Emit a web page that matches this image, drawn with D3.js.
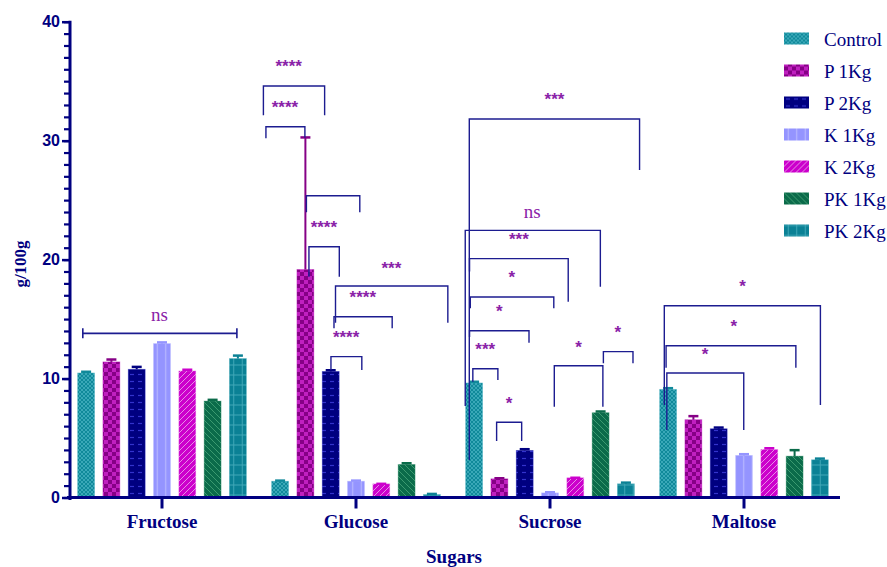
<!DOCTYPE html>
<html><head><meta charset="utf-8">
<script src="https://cdn.jsdelivr.net/npm/d3@7"></script>
<style>body{margin:0;background:#fff}svg{display:block}</style>
</head><body>
<svg id="c" width="887" height="567"></svg>
<script>
// ---- data ----
const categories = ["Fructose","Glucose","Sucrose","Maltose"];
const seriesNames = ["Control","P 1Kg","P 2Kg","K 1Kg","K 2Kg","PK 1Kg","PK 2Kg"];
const control = [10.47, 1.37, 9.63, 9.09];
const p1Kg    = [11.40, 19.17, 1.57, 6.54];
const p2Kg    = [10.78, 10.60, 3.96, 5.78];
const k1Kg    = [12.94, 1.37, 0.39, 3.54];
const k2Kg    = [10.64, 1.15, 1.66, 4.04];
const pk1Kg   = [8.11, 2.78, 7.13, 3.48];
const pk2Kg   = [11.68, 0.25, 1.15, 3.17];
const controlErr = [0.10, 0.05, 0.10, 0.10];
const p1KgErr    = [0.20, 11.10, 0.05, 0.30];
const p2KgErr    = [0.20, 0.10, 0.10, 0.10];
const k1KgErr    = [0.10, 0.05, 0.05, 0.10];
const k2KgErr    = [0.10, 0.00, 0.00, 0.10];
const pk1KgErr   = [0.10, 0.10, 0.10, 0.50];
const pk2KgErr   = [0.25, 0.05, 0.10, 0.10];
const yTicks = [0, 10, 20, 30, 40];
const axisTitles = ["Sugars", "g/100g"];
// brackets: [category, fromBar, toBar, top, leftEnd, rightEnd]
const brackets = [
  ["Glucose", -0.66, 1.76, 34.59, 32.13, 32.13],
  ["Glucose", -0.56, 0.98, 31.17, 30.20, 30.25],
  ["Glucose", 1.04, 3.15, 25.37, 23.98, 23.98],
  ["Glucose", 1.14, 2.34, 21.08, 18.56, 18.56],
  ["Glucose", 2.19, 6.63, 17.78, 14.70, 14.70],
  ["Glucose", 2.13, 4.43, 15.20, 14.22, 14.22],
  ["Glucose", 2.01, 3.23, 11.84, 10.72, 10.72],
  ["Sucrose", -0.19, 6.54, 31.82, 3.15, 27.53],
  ["Sucrose", -0.35, 4.99, 22.46, 7.69, 17.72],
  ["Sucrose", -0.18, 3.72, 20.08, 19.00, 16.46],
  ["Sucrose", -0.15, 3.15, 16.86, 15.91, 15.91],
  ["Sucrose", -0.18, 2.17, 14.02, 13.50, 13.01],
  ["Sucrose", -0.05, 0.94, 10.83, 9.74, 9.88],
  ["Sucrose", 0.89, 1.88, 6.32, 4.75, 4.75],
  ["Sucrose", 3.17, 5.09, 11.08, 7.63, 7.63],
  ["Sucrose", 5.11, 6.28, 12.26, 11.28, 11.28],
  ["Maltose", -0.15, 6.02, 16.12, 7.78, 7.78],
  ["Maltose", -0.08, 5.05, 12.76, 10.91, 10.91],
  ["Maltose", -0.05, 2.99, 10.47, 5.67, 5.67]
];
// capped line (ns across fructose): [category, fromBar, toBar, level]
const cappedLines = [["Fructose", -0.13, 5.96, 13.80]];
// significance labels: [category, barPosition, value, text]
const sigLabels = [
  ["Fructose", 2.90, 15.26, "ns"],
  ["Glucose", 0.34, 36.53, "****"],
  ["Glucose", 0.19, 33.14, "****"],
  ["Glucose", 1.73, 23.05, "****"],
  ["Glucose", 4.40, 19.63, "***"],
  ["Glucose", 3.27, 17.17, "****"],
  ["Glucose", 2.61, 13.80, "****"],
  ["Sucrose", 3.18, 33.78, "***"],
  ["Sucrose", 2.30, 23.89, "ns"],
  ["Sucrose", 1.77, 22.01, "***"],
  ["Sucrose", 1.49, 18.85, "*"],
  ["Sucrose", 1.00, 15.96, "*"],
  ["Sucrose", 0.44, 12.76, "***"],
  ["Sucrose", 1.38, 8.20, "*"],
  ["Sucrose", 4.13, 12.96, "*"],
  ["Sucrose", 5.68, 14.22, "*"],
  ["Maltose", 2.94, 18.06, "*"],
  ["Maltose", 2.60, 14.70, "*"],
  ["Maltose", 1.46, 12.40, "*"]
];

// ---- build ----
const seriesVals = [control, p1Kg, p2Kg, k1Kg, k2Kg, pk1Kg, pk2Kg];
const seriesErrs = [controlErr, p1KgErr, p2KgErr, k1KgErr, k2KgErr, pk1KgErr, pk2KgErr];
const baseCol = ["#10899a", "#860086", "#000080", "#9494ff", "#cc00cc", "#0b6b4a", "#0b8195"];
const lightCol = ["#45b0c0", "#c020c0", "#3333cc", "#b8b8ff", "#e68ce6", "#3c9a70", "#40a8b8"];
const axisCol = "#000080";
const brCol = "#1c1c90";
const sigCol = "#8a22a8";

const svg = d3.select("#c");
const defs = svg.append("defs");
function pat(id, w, h, bg, draw) {
  const p = defs.append("pattern").attr("id", id).attr("patternUnits", "userSpaceOnUse")
    .attr("width", w).attr("height", h);
  p.append("rect").attr("width", w).attr("height", h).attr("fill", bg);
  draw(p);
}
pat("p0", 4, 4, baseCol[0], p => {
  p.append("path").attr("d", "M0,0L4,4M4,0L0,4").attr("stroke", lightCol[0]).attr("stroke-width", 0.8);
});
pat("p1", 8, 8, baseCol[1], p => {
  p.append("rect").attr("width", 4).attr("height", 4).attr("fill", lightCol[1]);
  p.append("rect").attr("x", 4).attr("y", 4).attr("width", 4).attr("height", 4).attr("fill", lightCol[1]);
});
pat("p2", 8, 7, baseCol[2], p => {
  p.append("path").attr("d", "M2,3.5H6").attr("stroke", lightCol[2]).attr("stroke-width", 1.2);
});
pat("p3", 8.5, 8, baseCol[3], p => {
  p.append("path").attr("d", "M4.25,0V8").attr("stroke", lightCol[3]).attr("stroke-width", 1.2);
});
pat("p4", 6, 6, baseCol[4], p => {
  p.append("path").attr("d", "M0,6L6,0M-1,1L1,-1M5,7L7,5").attr("stroke", lightCol[4]).attr("stroke-width", 1);
});
pat("p5", 6, 6, baseCol[5], p => {
  p.append("path").attr("d", "M0,0L6,6M5,-1L7,1M-1,5L1,7").attr("stroke", lightCol[5]).attr("stroke-width", 1);
});
pat("p6", 8.5, 10, baseCol[6], p => {
  p.append("path").attr("d", "M4.25,0V10M0,5H8.5").attr("stroke", lightCol[6]).attr("stroke-width", 1);
});

const x0 = d3.scaleBand().domain(categories).range([65, 841]).paddingInner(0).paddingOuter(0);
const groupSpan = 177.1;
const x1 = d3.scaleBand().domain(seriesNames).range([0, groupSpan]).paddingInner(0.33).paddingOuter(0.165);
const y = d3.scaleLinear().domain([0, 40]).range([497.5, 21.7]);
const off = (x0.bandwidth() - groupSpan) / 2;
const bw = x1.bandwidth();
const posX = (cat, b) => x0(cat) + off + x1(seriesNames[0]) + bw / 2 + b * x1.step();

// bars
const barData = [];
seriesNames.forEach((s, si) => categories.forEach((c, ci) =>
  barData.push({s, si, c, v: seriesVals[si][ci], e: seriesErrs[si][ci]})));
const gBars = svg.append("g");
gBars.selectAll("rect").data(barData).join("rect")
  .attr("x", d => x0(d.c) + off + x1(d.s))
  .attr("y", d => y(d.v))
  .attr("width", bw)
  .attr("height", d => y(0) - y(d.v))
  .attr("fill", d => `url(#p${d.si})`)
  .attr("stroke", d => lightCol[d.si]).attr("stroke-opacity", 0.45).attr("stroke-width", 0.8);
// error bars
const gErr = svg.append("g");
barData.forEach(d => {
  const cx = x0(d.c) + off + x1(d.s) + bw / 2;
  const top = y(d.v + d.e);
  gErr.append("line").attr("x1", cx).attr("x2", cx).attr("y1", y(d.v)).attr("y2", top)
    .attr("stroke", baseCol[d.si]).attr("stroke-width", 2);
  gErr.append("line").attr("x1", cx - 5).attr("x2", cx + 5).attr("y1", top).attr("y2", top)
    .attr("stroke", baseCol[d.si]).attr("stroke-width", 2.5);
});

// brackets
const gBr = svg.append("g").attr("fill", "none").attr("stroke", brCol).attr("stroke-width", 1.4);
gBr.selectAll("path.br").data(brackets).join("path").attr("class", "br")
  .attr("d", d => {
    const xa = posX(d[0], d[1]), xb = posX(d[0], d[2]);
    return `M${xa},${y(d[4])}V${y(d[3])}H${xb}V${y(d[5])}`;
  });
gBr.selectAll("path.cl").data(cappedLines).join("path").attr("class", "cl")
  .attr("d", d => {
    const xa = posX(d[0], d[1]), xb = posX(d[0], d[2]), yy = y(d[3]);
    return `M${xa},${yy}H${xb}M${xa},${yy - 5}V${yy + 5}M${xb},${yy - 5}V${yy + 5}`;
  }).attr("stroke-width", 1.6);

// labels
svg.append("g").selectAll("text").data(sigLabels).join("text")
  .attr("x", d => posX(d[0], d[1]))
  .attr("y", d => y(d[2]) + (d[3] === "ns" ? 5 : 9.5))
  .attr("text-anchor", "middle")
  .attr("fill", sigCol)
  .attr("font-family", d => d[3] === "ns" ? "'Liberation Serif', 'Times New Roman', serif" : "'Liberation Sans', Arial, sans-serif")
  .attr("font-size", d => d[3] === "ns" ? 19 : 17)
  .attr("font-weight", d => d[3] === "ns" ? "normal" : "bold")
  .text(d => d[3]);

// y axis
const yMinor = d3.axisLeft(y).tickValues(d3.range(0, 41, 1)).tickSize(6).tickFormat("");
const gyMinor = svg.append("g").attr("transform", "translate(70,0)").call(yMinor);
gyMinor.select(".domain").remove();
gyMinor.selectAll("line").attr("stroke", axisCol).attr("stroke-width", 2.2);
const yMajor = d3.axisLeft(y).tickValues(yTicks).tickSize(8).tickPadding(2).tickFormat(d3.format("d"));
const gy = svg.append("g").attr("transform", "translate(70,0)").call(yMajor);
gy.select(".domain").remove();
gy.selectAll("line").attr("stroke", axisCol).attr("stroke-width", 2.5);
gy.selectAll("text").attr("fill", axisCol).attr("font-family", "'Liberation Sans', Arial, sans-serif")
  .attr("font-size", 16).attr("font-weight", "bold");
svg.append("line").attr("x1", 70).attr("x2", 70).attr("y1", y(40) - 1).attr("y2", 500)
  .attr("stroke", axisCol).attr("stroke-width", 3);

// x axis
const xAxis = d3.axisBottom(x0).tickSize(11).tickPadding(6).tickSizeOuter(0);
const gx = svg.append("g").attr("transform", `translate(0,${y(0)})`).call(xAxis);
gx.select(".domain").remove();
gx.selectAll("line").attr("stroke", axisCol).attr("stroke-width", 3);
gx.selectAll("text").attr("fill", axisCol).attr("font-family", "'Liberation Serif', 'Times New Roman', serif")
  .attr("font-size", 19).attr("font-weight", "bold");
svg.append("line").attr("x1", 67).attr("x2", 840).attr("y1", y(0)).attr("y2", y(0))
  .attr("stroke", axisCol).attr("stroke-width", 3);

// axis titles
svg.append("text").attr("x", 454).attr("y", 563).attr("text-anchor", "middle")
  .attr("fill", axisCol).attr("font-family", "'Liberation Serif', 'Times New Roman', serif")
  .attr("font-size", 19).attr("font-weight", "bold").text(axisTitles[0]);
svg.append("text").attr("transform", "translate(26,264) rotate(-90)").attr("text-anchor", "middle")
  .attr("fill", axisCol).attr("font-family", "'Liberation Serif', 'Times New Roman', serif")
  .attr("font-size", 17).attr("font-weight", "bold").text(axisTitles[1]);

// legend
const lg = svg.append("g").selectAll("g").data(seriesNames).join("g")
  .attr("transform", (d, i) => `translate(784,${38.5 + i * 32})`);
lg.append("rect").attr("x", 0).attr("y", -6).attr("width", 25).attr("height", 12)
  .attr("fill", (d, i) => `url(#p${i})`);
lg.append("text").attr("x", 40).attr("y", 7).attr("fill", axisCol)
  .attr("font-family", "'Liberation Serif', 'Times New Roman', serif").attr("font-size", 19)
  .text(d => d);
</script>
</body></html>
